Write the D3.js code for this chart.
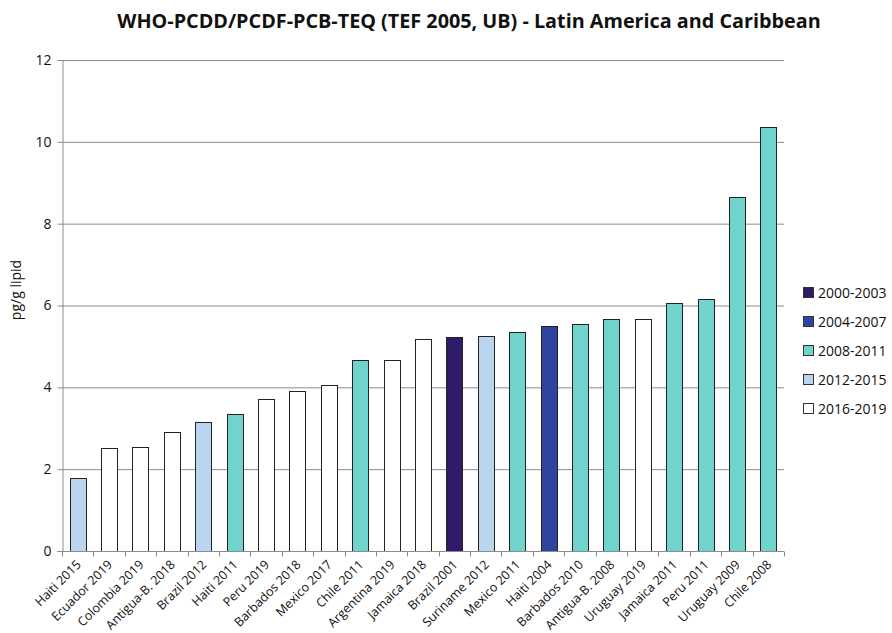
<!DOCTYPE html>
<html><head><meta charset="utf-8">
<script src="https://cdn.jsdelivr.net/npm/d3@7"></script>
<style>body{margin:0;background:#fff;}svg{display:block;font-family:"Open Sans","Liberation Sans",sans-serif;}</style>
</head><body><svg id="c" width="892" height="633"></svg>
<script>
const categories = ["Haiti 2015","Ecuador 2019","Colombia 2019","Antigua-B. 2018","Brazil 2012","Haiti 2011","Peru 2019","Barbados 2018","Mexico 2017","Chile 2011","Argentina 2019","Jamaica 2018","Brazil 2001","Suriname 2012","Mexico 2011","Haiti 2004","Barbados 2010","Antigua-B. 2008","Uruguay 2019","Jamaica 2011","Peru 2011","Uruguay 2009","Chile 2008"];
const values = [1.78,2.52,2.54,2.92,3.15,3.36,3.72,3.91,4.06,4.66,4.68,5.17,5.22,5.25,5.36,5.50,5.54,5.66,5.67,6.06,6.16,8.65,10.37];
const periods = ["2012-2015","2016-2019","2016-2019","2016-2019","2012-2015","2008-2011","2016-2019","2016-2019","2016-2019","2008-2011","2016-2019","2016-2019","2000-2003","2012-2015","2008-2011","2004-2007","2008-2011","2008-2011","2016-2019","2008-2011","2008-2011","2008-2011","2008-2011"];
const legendLabels = ["2000-2003","2004-2007","2008-2011","2012-2015","2016-2019"];
const legendColors = ["#2f1a6c","#2e44a0","#70d4cc","#b9d5ef","#ffffff"];
const yTicks = [0,2,4,6,8,10,12];
const title = "WHO-PCDD/PCDF-PCB-TEQ (TEF 2005, UB) - Latin America and Caribbean";
const yLabel = "pg/g lipid";

const svg = d3.select("#c");
const m = {l:62, r:784, t:60, b:551};
const x = d3.scaleBand().domain(categories).range([m.l, m.r]).paddingInner(0.49).paddingOuter(0.245);
const y = d3.scaleLinear().domain([0,12]).range([m.b, m.t]);
const color = d3.scaleOrdinal().domain(legendLabels).range(legendColors);

svg.append("text").attr("x",469).attr("y",28).attr("text-anchor","middle")
  .attr("font-weight","bold").attr("font-size",19.8).attr("fill","#111").text(title);

// gridlines
svg.append("g").selectAll("line").data(yTicks.filter(d=>d>0)).join("line")
  .attr("x1",m.l).attr("x2",m.r).attr("y1",d=>y(d)+0.5).attr("y2",d=>y(d)+0.5)
  .attr("stroke","#8c8c8c").attr("stroke-width",1);

// y axis
const ya = svg.append("g").attr("transform",`translate(${m.l+0.5},0)`)
  .call(d3.axisLeft(y).tickValues(yTicks).tickSize(5).tickPadding(6).tickFormat(d3.format("d")));
ya.select(".domain").attr("stroke","#8c8c8c");
ya.selectAll(".tick line").attr("stroke","#8c8c8c");
ya.selectAll("text").attr("font-size",14).attr("fill","#111").attr("font-family","'Open Sans','Liberation Sans',sans-serif");

// bars
svg.append("g").selectAll("rect").data(categories).join("rect")
  .attr("x",d=>Math.round(x(d))+0.5).attr("width",Math.round(x.bandwidth()))
  .attr("y",(d,i)=>Math.round(y(values[i]))+0.5).attr("height",(d,i)=>Math.round(m.b - y(values[i])))
  .attr("fill",(d,i)=>color(periods[i])).attr("stroke","#222").attr("stroke-width",1);

// x axis
const step = x.step();
const xa = svg.append("g").attr("transform",`translate(0,${m.b+0.5})`);
xa.append("line").attr("x1",m.l).attr("x2",m.r).attr("stroke","#8c8c8c");
const bounds = d3.range(categories.length+1).map(i=>m.l + i*step);
xa.selectAll(".tk").data(bounds).join("line").attr("class","tk")
  .attr("x1",d=>Math.round(d)+0.5).attr("x2",d=>Math.round(d)+0.5).attr("y1",0).attr("y2",5).attr("stroke","#8c8c8c");
xa.selectAll("text").data(categories).join("text")
  .attr("transform",d=>`translate(${x(d)+x.bandwidth()/2+4},14) rotate(-45)`)
  .attr("text-anchor","end").attr("font-size",12.5).attr("fill","#111").text(d=>d);

// y label
svg.append("text").attr("transform","translate(21,290) rotate(-90)").attr("text-anchor","middle")
  .attr("font-size",14).attr("fill","#111").text(yLabel);

// legend
const lg = svg.append("g").selectAll("g").data(legendLabels).join("g")
  .attr("transform",(d,i)=>`translate(803,${287+i*29})`);
lg.append("rect").attr("x",0.5).attr("y",0.5).attr("width",10).attr("height",10)
  .attr("fill",d=>color(d)).attr("stroke","#333");
lg.append("text").attr("x",15).attr("y",11).attr("font-size",14).attr("fill","#111").text(d=>d);
</script></body></html>
